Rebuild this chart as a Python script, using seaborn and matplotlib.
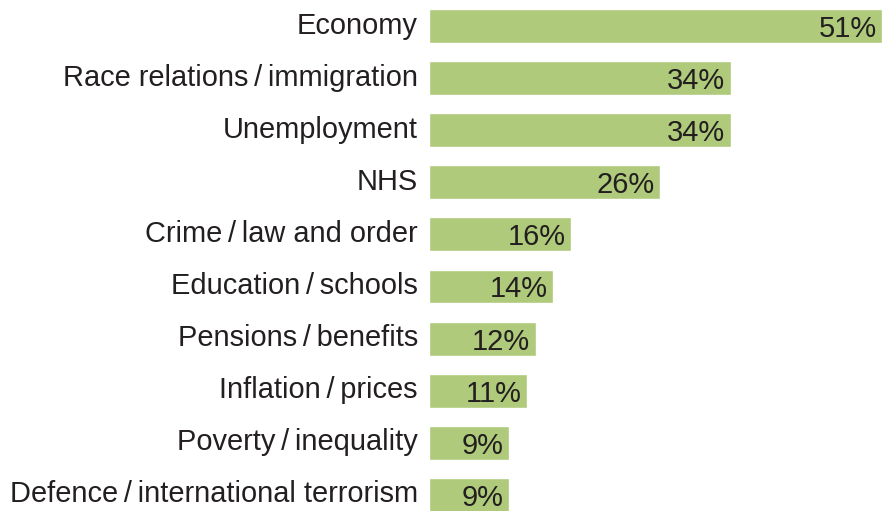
import matplotlib
matplotlib.use("Agg")
import matplotlib.pyplot as plt
import matplotlib.transforms as mtransforms
import seaborn as sns
import pandas as pd

categories = ["Economy", "Race relations\u2009/\u2009immigration", "Unemployment", "NHS",
              "Crime\u2009/\u2009law and order", "Education\u2009/\u2009schools",
              "Pensions\u2009/\u2009benefits", "Inflation\u2009/\u2009prices",
              "Poverty\u2009/\u2009inequality", "Defence\u2009/\u2009international terrorism"]
values = [51, 34, 34, 26, 16, 14, 12, 11, 9, 9]

df = pd.DataFrame({"issue": categories, "pct": values})

sns.set_theme(style="white")
plt.rcParams['font.family'] = ['Liberation Sans', 'DejaVu Sans']

fig = plt.figure(figsize=(8.82, 5.11), dpi=100)
ax = fig.add_axes([429/882, 0, 453/882, 1])
sns.barplot(data=df, y="issue", x="pct", color="#aeca7a", saturation=1,
            width=0.65, ax=ax, orient="h")
ax.set_xlim(0, 51)
ax.set_ylim(9.31, -0.5)
ax.set_xlabel("")
ax.set_ylabel("")
ax.set_xticks([])
for s in ax.spines.values():
    s.set_visible(False)
ax.tick_params(axis="y", length=0, pad=8, labelsize=20.9, labelcolor="#231f20")
offset = mtransforms.ScaledTranslation(0, 3.5/100, fig.dpi_scale_trans)
for lbl in ax.get_yticklabels():
    lbl.set_transform(lbl.get_transform() + offset)
for i, v in enumerate(values):
    ax.annotate(f"{v}%", xy=(v, i), xytext=(-4, 0), textcoords="offset points",
                ha="right", va="center_baseline", fontsize=20.9, color="#231f20")
fig.savefig("out.png", dpi=100)
